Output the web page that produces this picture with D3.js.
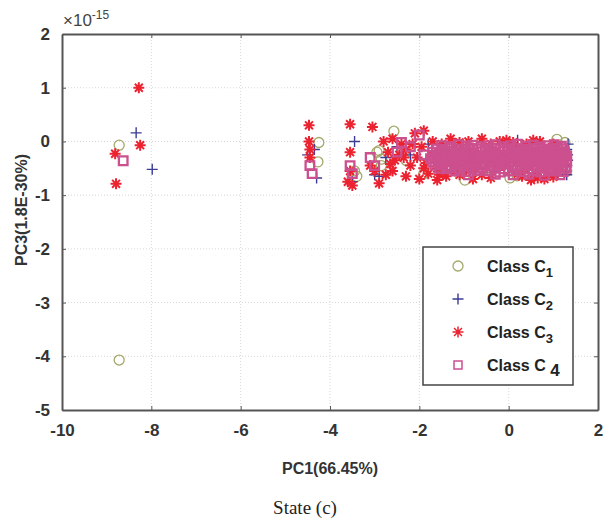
<!DOCTYPE html>
<html lang="en">
<head>
<meta charset="utf-8"/>
<script src="https://cdn.jsdelivr.net/npm/d3@7"></script>
<style>
  body { margin: 0; background: #fff; }
  text { font-family: "Liberation Sans", Arial, sans-serif; }
</style>
</head>
<body>
<div id="chart"></div>
<script>
// tick values
var xTicks = [-10, -8, -6, -4, -2, 0, 2];
var yTicks = [-5, -4, -3, -2, -1, 0, 1, 2];
var classNames = ["1", "2", "3", "4"];

// Class C1 (circles)
var c1 = [[-8.72,-0.07],[-8.72,-4.07],[-4.25,-0.02],[-4.27,-0.38],[-3.45,-0.55],[-3.4,-0.65],
  [-2.95,-0.2],[-2.85,-0.45],[-2.57,0.19],[-2.9,-0.17],[-2.85,-0.33],[-2.3,-0.35],[-1.9,-0.6],
  [-1.5,-0.3],[-0.98,-0.72],[-0.5,-0.5],[0.03,-0.68],[0.19,-0.64],[0.6,-0.35],[1.08,0.04],
  [1.26,-0.02],[1.3,-0.25],[1.3,-0.55],[0.9,-0.55]];

// Class C2 (plus)
var c2 = [[-8.34,0.16],[-7.98,-0.52],[-4.5,-0.25],[-4.3,-0.68],[-4.35,-0.15],[-3.45,0.0],
  [-3.5,-0.75],[-3.0,-0.62],[-2.75,-0.3],[-2.9,-0.65],[-2.5,-0.1],[-2.2,-0.25],[-1.8,-0.05],
  [-1.4,-0.45],[-1.1,-0.15],[-0.7,-0.3],[-0.3,-0.55],[0.1,-0.2],[0.2,0.02],[0.5,-0.45],
  [0.8,-0.1],[1.0,-0.6],[1.3,-0.15],[1.32,-0.25],[1.32,-0.35],[1.3,-0.45],[1.28,-0.55],
  [1.3,-0.62],[1.33,-0.05]];

// Class C3 (asterisk)
var c3 = [[-8.28,1.0],[-8.25,-0.07],[-8.81,-0.23],[-8.79,-0.79],
  [-4.47,0.3],[-4.47,0.0],[-4.45,-0.15],[-4.45,-0.3],[-3.55,0.32],[-3.55,-0.2],[-3.55,-0.55],
  [-3.6,-0.75],[-3.5,-0.82],[-3.05,0.27],[-3.1,-0.45],[-3.0,-0.55],[-2.75,-0.62],[-2.8,0.0],
  [-2.6,0.05],[-2.4,-0.05],[-2.1,0.15],[-1.9,0.2],[-1.7,0.0],[-1.5,-0.05],[-1.3,0.05],
  [-1.1,-0.02],[-0.9,0.0],[-0.6,0.05],[-0.4,-0.05],[-0.2,0.0],[0.1,-0.02],[0.4,-0.05],
  [0.7,0.0],[1.0,-0.05],
  [-2.7,-0.2],[-2.55,-0.35],[-2.45,-0.25],[-2.3,-0.15],[-2.2,-0.45],[-2.05,-0.3],[-1.95,-0.1],
  [-1.85,-0.4],[-1.7,-0.25],[-1.6,-0.5],[-1.45,-0.2],[-1.35,-0.35],[-1.25,-0.15],[-1.0,-0.4],
  [-0.85,-0.2],[-0.75,-0.5],[-0.55,-0.3],[-0.35,-0.2],[-0.15,-0.45],[0.0,-0.3],[0.25,-0.15],
  [0.35,-0.5],[0.55,-0.25],[0.75,-0.4],[0.95,-0.3],[1.1,-0.45],
  [-2.6,-0.55],[-2.3,-0.65],[-2.0,-0.7],[-1.8,-0.6],[-1.6,-0.72],[-1.4,-0.65],[-1.2,-0.55],
  [-0.8,-0.7],[-0.6,-0.62],[-0.4,-0.68],[0.3,-0.65],[0.5,-0.72],[0.65,-0.68],[0.8,-0.7],
  [1.0,-0.66],[-2.9,-0.78],[-2.65,-0.42],[-2.35,-0.3],[-2.15,-0.05],[-1.9,-0.5],[-1.55,-0.62],
  [-1.1,-0.62],[-0.95,-0.55],[0.2,-0.6],[0.6,-0.6],[0.9,-0.62],[-0.05,0.02],[0.55,0.02]];

// Class C4 (square)
var c4 = [[-8.63,-0.36],[-4.45,-0.45],[-4.4,-0.6],[-3.55,-0.45],[-3.5,-0.6],[-3.1,-0.3],
  [-3.0,-0.45],[-2.4,-0.02],[-2.0,0.12],[-2.5,-0.2],[-2.2,-0.1],[-1.9,-0.25],
  [-1.5,-0.08],[-1.3,-0.1],[-1.12,-0.06],[-0.95,-0.09],[-0.8,-0.07],[-0.62,-0.1],[-0.45,-0.08],
  [-0.3,-0.06],[-0.12,-0.1],[0.05,-0.08],[0.2,-0.05],[0.38,-0.09],[0.55,-0.07],[0.7,-0.1],
  [0.88,-0.08],[1.02,-0.06],[1.18,-0.09],
  [-1.62,-0.14],[-1.47,-0.15],[-1.32,-0.13],[-1.17,-0.14],[-1.0,-0.15],[-0.86,-0.13],[-0.7,-0.14],
  [-0.53,-0.15],[-0.37,-0.13],[-0.2,-0.14],[-0.03,-0.15],[0.13,-0.13],[0.3,-0.14],[0.46,-0.15],
  [0.61,-0.13],[0.77,-0.14],[0.93,-0.15],[1.09,-0.13],[1.22,-0.14],
  [-1.7,-0.2],[-1.55,-0.22],[-1.4,-0.18],[-1.25,-0.21],[-1.08,-0.19],[-0.92,-0.2],[-0.78,-0.22],
  [-0.6,-0.19],[-0.44,-0.2],[-0.28,-0.21],[-0.1,-0.18],[0.05,-0.2],[0.22,-0.22],[0.38,-0.19],
  [0.52,-0.2],[0.68,-0.21],[0.85,-0.18],[1.0,-0.2],[1.15,-0.22],[1.25,-0.19],
  [-1.68,-0.26],[-1.52,-0.27],[-1.37,-0.25],[-1.2,-0.26],[-1.05,-0.27],[-0.9,-0.25],[-0.74,-0.26],
  [-0.57,-0.27],[-0.41,-0.25],[-0.25,-0.26],[-0.08,-0.27],[0.08,-0.25],[0.24,-0.26],[0.41,-0.27],
  [0.57,-0.25],[0.73,-0.26],[0.89,-0.27],[1.05,-0.25],[1.2,-0.26],[1.3,-0.27],
  [-1.75,-0.32],[-1.6,-0.33],[-1.45,-0.31],[-1.3,-0.32],[-1.15,-0.34],[-0.98,-0.31],[-0.82,-0.32],
  [-0.66,-0.33],[-0.5,-0.31],[-0.35,-0.32],[-0.18,-0.34],[-0.02,-0.31],[0.15,-0.32],[0.3,-0.33],
  [0.46,-0.31],[0.62,-0.32],[0.78,-0.34],[0.94,-0.31],[1.1,-0.32],[1.24,-0.33],
  [-1.7,-0.38],[-1.55,-0.39],[-1.4,-0.37],[-1.24,-0.38],[-1.08,-0.39],[-0.92,-0.37],[-0.76,-0.38],
  [-0.6,-0.39],[-0.44,-0.37],[-0.28,-0.38],[-0.12,-0.39],[0.05,-0.37],[0.2,-0.38],[0.36,-0.39],
  [0.52,-0.37],[0.68,-0.38],[0.84,-0.39],[1.0,-0.37],[1.16,-0.38],[1.3,-0.39],
  [-1.65,-0.44],[-1.5,-0.43],[-1.35,-0.45],[-1.2,-0.44],[-1.03,-0.42],[-0.88,-0.45],[-0.72,-0.44],
  [-0.55,-0.43],[-0.4,-0.45],[-0.23,-0.44],[-0.06,-0.42],[0.1,-0.44],[0.26,-0.45],[0.42,-0.43],
  [0.58,-0.44],[0.74,-0.45],[0.9,-0.43],[1.06,-0.44],[1.2,-0.45],
  [-1.55,-0.5],[-1.4,-0.51],[-1.28,-0.49],[-1.1,-0.5],[-0.82,-0.51],[-0.58,-0.49],[-0.33,-0.5],
  [-0.1,-0.51],[0.08,-0.49],[0.26,-0.5],[0.45,-0.51],[0.63,-0.49],[0.8,-0.5],[0.98,-0.51],
  [1.13,-0.49],[1.28,-0.5],
  [-1.2,-0.55],[-0.95,-0.56],[-0.7,-0.54],[-0.45,-0.55],[-0.2,-0.57],[0.0,-0.55],[0.18,-0.54],
  [0.35,-0.56],[0.55,-0.55],[0.72,-0.57],[0.9,-0.55],[1.05,-0.54],[1.22,-0.56],
  [-0.9,-0.62],[-0.3,-0.61],[0.1,-0.62],[0.45,-0.61],[0.8,-0.63],[1.15,-0.62]];

var W = 613, H = 522;
var margin = {top: 34, right: 15, bottom: 112, left: 62};
var width = W - margin.left - margin.right;
var height = H - margin.top - margin.bottom;

var colors = {c1: "#a4a86a", c2: "#3c3c94", c3: "#ec2230", c4: "#cc4f8e"};

var svg = d3.select("#chart").append("svg")
    .attr("width", W).attr("height", H);

var g = svg.append("g")
    .attr("transform", "translate(" + margin.left + "," + margin.top + ")");

var x = d3.scaleLinear().domain([-10, 2]).range([0, width]);
var y = d3.scaleLinear().domain([-5, 2]).range([height, 0]);

// dotted grid
g.append("g").selectAll("line").data(xTicks.slice(1, -1)).enter().append("line")
    .attr("x1", function (d) { return x(d); }).attr("x2", function (d) { return x(d); })
    .attr("y1", 0).attr("y2", height)
    .attr("stroke", "#d8d8d8").attr("stroke-dasharray", "1,2");
g.append("g").selectAll("line").data(yTicks.slice(1, -1)).enter().append("line")
    .attr("y1", function (d) { return y(d); }).attr("y2", function (d) { return y(d); })
    .attr("x1", 0).attr("x2", width)
    .attr("stroke", "#d8d8d8").attr("stroke-dasharray", "1,2");

function markerPath(type, s) {
    if (type === "circle") return d3.symbol().type(d3.symbolCircle).size(Math.PI * s * s)();
    if (type === "plus") return "M" + (-s) + ",0H" + s + "M0," + (-s) + "V" + s;
    if (type === "square") return "M" + (-s) + "," + (-s) + "H" + s + "V" + s + "H" + (-s) + "Z";
    var d = s * 0.72;
    return "M" + (-s) + ",0H" + s + "M0," + (-s) + "V" + s +
        "M" + (-d) + "," + (-d) + "L" + d + "," + d + "M" + (-d) + "," + d + "L" + d + "," + (-d);
}

var series = [
    {data: c1, type: "circle", size: 5, color: colors.c1, sw: 1.3},
    {data: c2, type: "plus", size: 5.5, color: colors.c2, sw: 1.4},
    {data: c3, type: "star", size: 5.5, color: colors.c3, sw: 2},
    {data: c4, type: "square", size: 4.3, color: colors.c4, sw: 2.3}
];

series.forEach(function (s) {
    g.append("g").selectAll("path").data(s.data).enter().append("path")
        .attr("transform", function (d) { return "translate(" + x(d[0]) + "," + y(d[1]) + ")"; })
        .attr("d", markerPath(s.type, s.size))
        .attr("fill", "none")
        .attr("stroke", s.color)
        .attr("stroke-width", s.sw);
});

// axes
var axisColor = "#555";
var xAxis = g.append("g").attr("class", "lab").attr("transform", "translate(0," + height + ")")
    .call(d3.axisBottom(x).tickValues(xTicks).tickSizeInner(-4).tickSizeOuter(0).tickPadding(14));
var yAxis = g.append("g").attr("class", "lab")
    .call(d3.axisLeft(y).tickValues(yTicks).tickSizeInner(-4).tickSizeOuter(0).tickPadding(12));
g.append("g").attr("transform", "translate(" + width + ",0)")
    .call(d3.axisRight(y).tickValues(yTicks).tickSizeInner(-4).tickSizeOuter(0).tickFormat(""));
g.append("g")
    .call(d3.axisTop(x).tickValues(xTicks).tickSizeInner(-4).tickSizeOuter(0).tickFormat(""));
g.selectAll(".domain").attr("stroke", axisColor).attr("stroke-width", 2);
g.selectAll(".tick line").attr("stroke", axisColor);
g.selectAll(".lab .tick text")
    .attr("font-size", 17).attr("font-weight", "bold").attr("fill", "#333")
    .text(function (d) { return d; });

// exponent
svg.append("text").attr("x", margin.left + 1).attr("y", 26)
    .attr("font-size", 17).attr("fill", "#444")
    .text("\u00d710")
    .append("tspan").attr("dy", -7).attr("font-size", 12).text("-15");

// axis labels
svg.append("text").attr("x", margin.left + width / 2).attr("y", 474)
    .attr("text-anchor", "middle").attr("font-size", 16).attr("font-weight", "bold").attr("fill", "#333")
    .text("PC1(66.45%)");
svg.append("text")
    .attr("transform", "translate(27," + (margin.top + height / 2 - 12) + ") rotate(-90)")
    .attr("text-anchor", "middle").attr("font-size", 16).attr("font-weight", "bold").attr("fill", "#333")
    .text("PC3(1.8E-30%)");

svg.append("text").attr("x", 305).attr("y", 514)
    .attr("text-anchor", "middle").attr("font-size", 19).attr("fill", "#222")
    .style("font-family", "'Liberation Serif', 'Times New Roman', serif")
    .text("State (c)");

// legend
var leg = svg.append("g").attr("transform", "translate(423,247)");
leg.append("rect").attr("width", 150).attr("height", 138)
    .attr("fill", "#fff").attr("stroke", "#444").attr("stroke-width", 1.5);
var rowY = d3.scalePoint().domain(classNames).range([19, 118]);
series.forEach(function (s, i) {
    var yy = rowY(classNames[i]);
    leg.append("path").attr("transform", "translate(35," + yy + ")")
        .attr("d", markerPath(s.type, i === 3 ? 4 : s.size))
        .attr("fill", "none").attr("stroke", s.color).attr("stroke-width", Math.min(s.sw, 1.5));
    var t = leg.append("text").attr("x", 64).attr("y", yy + 6)
        .attr("font-size", 16).attr("font-weight", "bold").attr("fill", "#222")
        .text(i === 3 ? "Class C " : "Class C");
    t.append("tspan").attr("dy", 5).attr("font-size", i === 3 ? 17 : 13).text(classNames[i]);
});
</script>
</body>
</html>
